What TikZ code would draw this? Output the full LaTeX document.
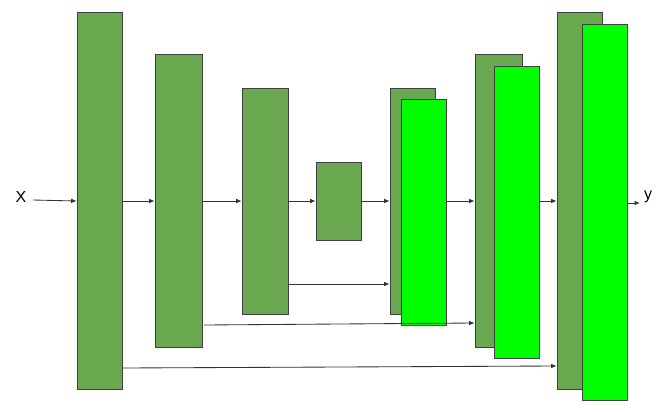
\documentclass[tikz,border=0pt]{standalone}
\usepackage{fontspec}
\setmainfont{Liberation Sans}
\usetikzlibrary{arrows.meta}
\definecolor{oldgreen}{HTML}{6AA84F}
\definecolor{newgreen}{HTML}{00FF00}
\tikzset{
  blk/.style={draw=black!75, line width=0.6pt, fill=oldgreen, inner sep=0, minimum width=#1},
  blk/.default=45pt,
  upblk/.style={blk, fill=newgreen},
  flow/.style={draw=black!80, line width=0.85pt, -{Latex[length=5.5pt,width=4.5pt]}}
}
\begin{document}
\begin{tikzpicture}[x=1pt,y=-1pt]
\useasboundingbox (0,0) rectangle (660,412);

% encoder side
\node [blk, minimum height=377pt] (b1) at (99.5,200.5) {};
\node [blk=47pt, minimum height=293pt] (b2) at (178.5,200.5) {};
\node [blk=46pt, minimum height=226pt] (b3) at (265,201) {};
\node [blk, minimum height=78pt] (b4) at (338.5,201) {};

% decoder side
\node [blk, minimum height=226pt] (b5) at (412.5,201) {};
\node [upblk=44pt, minimum height=226pt] (u5) at (424,212) {};
\node [blk=47pt, minimum height=293pt] (b6) at (498.5,200.5) {};
\node [upblk=47pt, minimum height=292pt] (u6) at (516.5,212) {};
\node [blk, minimum height=377pt] (b7) at (579.5,200.5) {};
\node [upblk, minimum height=376pt] (u7) at (604.5,212) {};

\node [font=\fontsize{16}{18}\selectfont] (xin) at (21,197) {X};
\node [font=\fontsize{16}{18}\selectfont] (yout) at (648,197) {y};

\draw [flow] (33,200) -- (b1.west |- 0,201);
\draw [flow] (b1.east |- 0,201) -- (b2.west |- 0,201);
\draw [flow] (b2.east |- 0,201) -- (b3.west |- 0,201);
\draw [flow] (b3.east |- 0,201) -- (b4.west |- 0,201);
\draw [flow] (b4.east |- 0,201) -- (b5.west |- 0,201);
\draw [flow] (u5.east |- 0,201) -- (b6.west |- 0,201);
\draw [flow] (u6.east |- 0,201) -- (b7.west |- 0,201);
\draw [flow] (u7.east |- 0,203) -- (640,203);

% skips
\draw [flow] (b3.east |- 0,284) -- (b5.west |- 0,284);
\draw [flow] (204,325) -- (b6.west |- 0,323);
\draw [flow] (b1.east |- 0,368) -- (b7.west |- 0,366);
\end{tikzpicture}
\end{document}
